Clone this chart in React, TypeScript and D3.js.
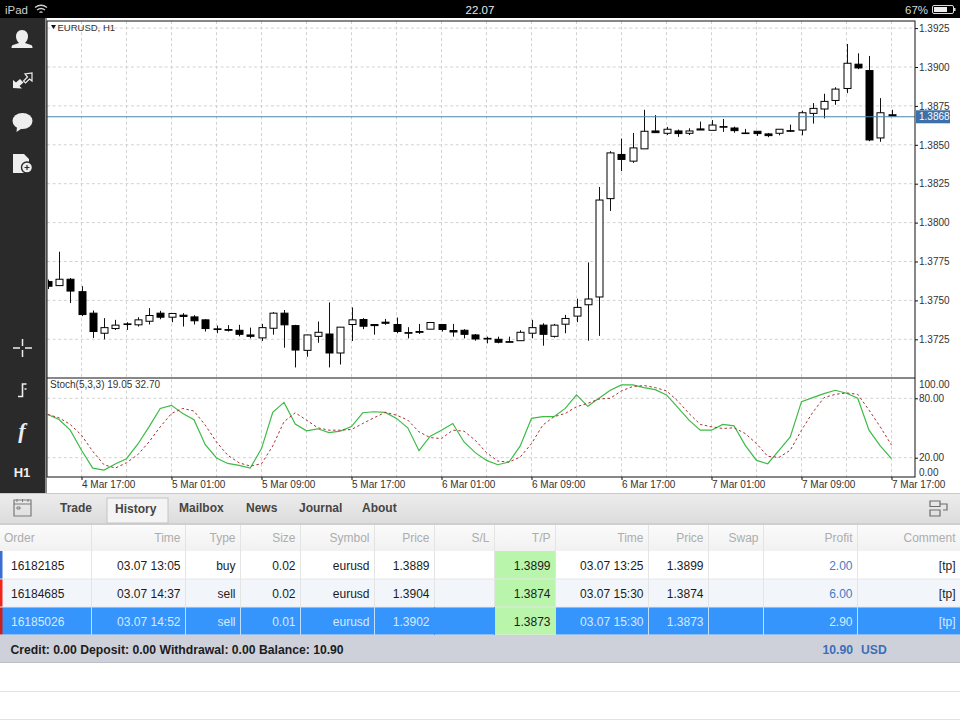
import { useRef, useEffect } from 'react';
import * as d3 from 'd3';

const opens = [1.37621,1.37595,1.37636,1.37556,1.37418,1.37289,1.37319,1.37349,1.37343,1.37366,1.37418,1.37392,1.37405,1.37394,1.37375,1.37317,1.37313,1.37308,1.37278,1.37259,1.37321,1.37418,1.37338,1.37179,1.37269,1.37284,1.37162,1.37345,
  1.37377,1.37345,1.37360,1.37345,1.37293,1.37300,1.37315,1.37345,1.37306,1.37308,1.37278,1.37256,1.37250,1.37235,1.37241,1.37289,1.37341,1.37269,1.37347,1.37399,1.37472,1.37522,
  1.38154,1.38438,1.38395,1.38474,1.38589,1.38574,1.38589,1.38574,1.38602,1.38593,1.38617,1.38608,1.38576,1.38587,1.38570,1.38574,1.38591,1.38595,1.38702,1.38730,1.38785,1.38862,1.39018,1.38977,1.38544,1.38693];
const highs = [1.37634,1.37813,1.37644,1.37591,1.37435,1.37386,1.37375,1.37360,1.37392,1.37450,1.37433,1.37418,1.37418,1.37405,1.37379,1.37338,1.37341,1.37343,1.37325,1.37349,1.37425,1.37438,1.37343,1.37280,1.37364,1.37487,1.37328,1.37455,
  1.37386,1.37345,1.37381,1.37390,1.37328,1.37349,1.37358,1.37345,1.37349,1.37315,1.37284,1.37267,1.37267,1.37267,1.37308,1.37375,1.37353,1.37349,1.37407,1.37511,1.37744,1.38229,
  1.38459,1.38540,1.38576,1.38725,1.38691,1.38615,1.38598,1.38606,1.38649,1.38659,1.38666,1.38617,1.38602,1.38587,1.38576,1.38600,1.38630,1.38719,1.38768,1.38828,1.38870,1.39148,1.39088,1.39071,1.38800,1.38725];
const lows = [1.37573,1.37595,1.37483,1.37399,1.37259,1.37250,1.37310,1.37310,1.37332,1.37345,1.37379,1.37360,1.37332,1.37345,1.37300,1.37289,1.37300,1.37269,1.37256,1.37239,1.37280,1.37196,1.37069,1.37138,1.37228,1.37069,1.37088,1.37239,
  1.37315,1.37280,1.37343,1.37289,1.37256,1.37284,1.37315,1.37300,1.37267,1.37256,1.37241,1.37224,1.37224,1.37231,1.37241,1.37256,1.37209,1.37261,1.37289,1.37360,1.37241,1.37272,
  1.38075,1.38331,1.38384,1.38474,1.38578,1.38563,1.38551,1.38563,1.38595,1.38593,1.38583,1.38578,1.38574,1.38557,1.38549,1.38561,1.38583,1.38561,1.38636,1.38670,1.38757,1.38832,1.38986,1.38523,1.38519,1.38685];
const closes = [1.37591,1.37636,1.37560,1.37409,1.37300,1.37325,1.37341,1.37345,1.37375,1.37403,1.37392,1.37416,1.37397,1.37369,1.37319,1.37313,1.37308,1.37282,1.37269,1.37325,1.37418,1.37343,1.37181,1.37278,1.37295,1.37162,1.37328,1.37375,
  1.37334,1.37338,1.37353,1.37300,1.37289,1.37295,1.37358,1.37313,1.37297,1.37282,1.37252,1.37252,1.37231,1.37231,1.37295,1.37325,1.37282,1.37341,1.37384,1.37455,1.37509,1.38145,
  1.38448,1.38406,1.38480,1.38587,1.38578,1.38600,1.38572,1.38589,1.38595,1.38627,1.38615,1.38591,1.38574,1.38572,1.38559,1.38600,1.38587,1.38706,1.38734,1.38779,1.38858,1.39024,1.38994,1.38531,1.38706,1.38685];

const stochK = [63.7,58.6,47.8,27.5,9.5,7.5,13.6,19,33.6,51.2,69.8,72.9,64.7,58.3,33.2,19.7,14.2,12.2,9.5,29.2,65.8,75.9,53.9,47.1,49.2,45.4,46.8,51.5,
  65.4,66.4,65.8,59.7,50.2,27.1,41.7,47.8,54.6,35.9,25.1,17.3,12.9,15.6,31.9,59.7,61.4,61.4,69.8,83.4,71.9,80,88.1,93.6,93.6,90.8,88.8,83.4,
  70.8,58,47.8,47.8,53.6,52.2,32.5,17.3,13.9,27.5,41,76.6,80.7,84.7,88.1,85.1,80,47.8,31.9,19.05];
const stochD = [63.7,60.3,53.6,42.7,26.4,12.9,9.5,14.9,23,35.9,51.2,64.7,69.8,67.1,52.9,35.9,22.4,14.9,11.5,13.9,31.9,56.3,65.4,58,50.2,47.8,47.8,48.5,
  54.6,60.3,65.8,63,58,46.1,40.3,39.3,47.8,46.8,37.6,25.1,16.6,15.6,20.7,34.2,52.9,61.4,64.7,71.5,74.9,79.3,80,87.5,91.9,92.9,90.8,87.5,
  77.3,64.7,53.6,51.2,49.5,50.2,44.4,34.2,21.4,20.3,27.5,47.8,65.8,80.7,84,85.4,84,68.1,51.2,32.7];

const priceTicks = [1.3925,1.39,1.3875,1.385,1.3825,1.38,1.3775,1.375,1.3725];
const stochTicks = [100,80,20,0];
const lastPrice = 1.3868;
const dateLabels = ['4 Mar 17:00','5 Mar 01:00','5 Mar 09:00','5 Mar 17:00','6 Mar 01:00','6 Mar 09:00','6 Mar 17:00','7 Mar 01:00','7 Mar 09:00','7 Mar 17:00'];

const tabs = ['Trade','History','Mailbox','News','Journal','About'];
const tabX = [60,115,179,246,299,362];
const headers = ['Order','Time','Type','Size','Symbol','Price','S/L','T/P','Time','Price','Swap','Profit','Comment'];
const colEdges = [0,91,185,240,300,374,434,494,555,648,708,763,857,960];
const rows = [
  ['16182185','03.07 13:05','buy','0.02','eurusd','1.3889','','1.3899','03.07 13:25','1.3899','','2.00','[tp]'],
  ['16184685','03.07 14:37','sell','0.02','eurusd','1.3904','','1.3874','03.07 15:30','1.3874','','6.00','[tp]'],
  ['16185026','03.07 14:52','sell','0.01','eurusd','1.3902','','1.3873','03.07 15:30','1.3873','','2.90','[tp]'],
];
const rowTop = [551,579,607];
const rowBg = ['#ffffff','#f2f6fb','#3595fd'];
const rowMark = ['#3b6fd4','#f0261c','#c8201c'];
const font = 'Liberation Sans, Arial, sans-serif';

export default function App () {
  const chartRef = useRef<SVGGElement | null>(null);

  useEffect(() => {
    const g = d3.select(chartRef.current);
    g.selectAll('*').remove();

    const left = 47, right = 915, top = 21, mid = 378, bottom = 477;
    const x = d3.scaleLinear().domain([3, 75]).range([81.5, 891.5]);
    const yPrice = d3.scaleLinear().domain([1.39, 1.3725]).range([67, 339.3]);
    const yStoch = d3.scaleLinear().domain([0, 100]).range([477.5, 378.5]);
    const gridX = d3.range(3, 76, 4);

    g.append('rect').attr('x', left).attr('y', top).attr('width', right - left).attr('height', bottom - top).attr('fill', '#fff');
    g.append('clipPath').attr('id', 'plot').append('rect').attr('x', left + 1).attr('y', top).attr('width', right - left - 1).attr('height', bottom - top);

    // grid
    const grid = g.append('g').attr('stroke', '#d2d2d2').attr('stroke-dasharray', '3,2.6').attr('fill', 'none');
    gridX.forEach(i => {
      grid.append('line').attr('x1', x(i)).attr('x2', x(i)).attr('y1', top).attr('y2', bottom);
    });
    priceTicks.forEach(p => {
      grid.append('line').attr('x1', left).attr('x2', right).attr('y1', yPrice(p)).attr('y2', yPrice(p));
    });
    [80, 20].forEach(v => {
      grid.append('line').attr('x1', left).attr('x2', right).attr('y1', yStoch(v)).attr('y2', yStoch(v));
    });

    // candles
    const candles = g.append('g').attr('clip-path', 'url(#plot)');
    closes.forEach((c, i) => {
      const o = opens[i];
      const cx = Math.round(x(i)) + 0.5;
      candles.append('line')
        .attr('x1', cx).attr('x2', cx)
        .attr('y1', yPrice(highs[i])).attr('y2', yPrice(lows[i]))
        .attr('stroke', '#111');
      const bodyTop = yPrice(Math.max(o, c));
      const bodyH = Math.abs(yPrice(c) - yPrice(o));
      candles.append('rect')
        .attr('x', cx - 3.5).attr('y', bodyTop)
        .attr('width', 7).attr('height', Math.max(bodyH, 0.6))
        .attr('fill', c > o ? '#fff' : '#000')
        .attr('stroke', '#000');
    });

    // last price line
    g.append('line')
      .attr('x1', left).attr('x2', right)
      .attr('y1', yPrice(lastPrice)).attr('y2', yPrice(lastPrice))
      .attr('stroke', '#4a87a8').attr('stroke-width', 1.1);

    // stochastic
    const line = d3.line<number>().x((_, i) => x(i)).y(v => yStoch(v));
    g.append('path').attr('d', line(stochK)).attr('fill', 'none').attr('stroke', '#3dbb45').attr('stroke-width', 1.2);
    g.append('path').attr('d', line(stochD)).attr('fill', 'none').attr('stroke', '#a83232').attr('stroke-width', 1).attr('stroke-dasharray', '2.5,2.5');

    // frame
    g.append('rect').attr('x', left).attr('y', top).attr('width', right - left).attr('height', bottom - top)
      .attr('fill', 'none').attr('stroke', '#111');
    g.append('line').attr('x1', left).attr('x2', right).attr('y1', mid).attr('y2', mid).attr('stroke', '#111');

    // axes
    const priceAxis = g.append('g').attr('transform', `translate(${right},0)`)
      .call(d3.axisRight(yPrice).tickValues(priceTicks).tickFormat(d3.format('.4f') as any).tickSize(3).tickPadding(1));
    const stochAxis = g.append('g').attr('transform', `translate(${right},0)`)
      .call(d3.axisRight(yStoch).tickValues(stochTicks).tickFormat(d3.format('.2f') as any).tickSize(3).tickPadding(1));
    stochAxis.selectAll<SVGGElement, number>('.tick').filter(d => d === 100 || d === 0).each(function (d) {
      d3.select(this).select('line').remove();
      d3.select(this).select('text').attr('y', d === 100 ? 6 : -5.5);
    });
    const dateAxis = g.append('g').attr('transform', `translate(0,${bottom})`)
      .call(d3.axisBottom(x).tickValues(dateLabels.map((_, i) => 3 + i * 8)).tickFormat((_, i) => dateLabels[i]).tickSize(3).tickPadding(1));
    dateAxis.selectAll('text').attr('text-anchor', 'start');
    [priceAxis, stochAxis, dateAxis].forEach(a => {
      a.select('.domain').remove();
      a.selectAll('text').attr('fill', '#333').style('font-size', '10px').style('font-family', font);
      a.selectAll('line').attr('stroke', '#111');
    });

    // last price badge
    const yLast = yPrice(lastPrice);
    g.append('rect').attr('x', 916).attr('y', yLast - 6.5).attr('width', 34).attr('height', 13).attr('fill', '#3d6fa8');
    g.append('text').attr('x', 919).attr('y', yLast).attr('dy', '0.35em').attr('fill', '#fff')
      .style('font-size', '10px').style('font-family', font).text(d3.format('.4f')(lastPrice));

    // titles
    g.append('path').attr('d', 'M51 25h5l-2.5 4z').attr('fill', '#111');
    g.append('text').attr('x', 57.5).attr('y', 31).attr('fill', '#333').style('font-size', '9.5px').style('font-family', font).text('EURUSD, H1');
    g.append('text').attr('x', 50).attr('y', 388).attr('fill', '#333').style('font-size', '10px').style('font-family', font).text('Stoch(5,3,3) 19.05 32.70');
  }, []);

  const align = (c: number) => c === 0
    ? { x: colEdges[0] + 11, anchor: 'start' }
    : { x: colEdges[c + 1] - 4.5, anchor: 'end' };

  return (
    <svg width={960} height={720} style={{ position: 'absolute', left: 0, top: 0, fontFamily: font }}>
      <defs>
        <linearGradient id="toolbar" x1="0" y1="0" x2="0" y2="1">
          <stop offset="0" stopColor="#ececec" /><stop offset="1" stopColor="#dcdcdc" />
        </linearGradient>
        <linearGradient id="thead" x1="0" y1="0" x2="0" y2="1">
          <stop offset="0" stopColor="#fbfbfb" /><stop offset="1" stopColor="#f1f1f1" />
        </linearGradient>
      </defs>
      <rect width={960} height={720} fill="#fff" />

      {/* status bar */}
      <rect width={960} height={18} fill="#000" />
      <text x={5} y={14} fontSize={11.5} fill="#d0d0d0">iPad</text>
      <path d="M35 7.5q6-4.5 12 0M37 10q4-3 8 0M39.5 12.5q1.5-1.2 3 0" fill="none" stroke="#d0d0d0" strokeWidth={1.4} />
      <text x={480} y={14} fontSize={11.5} fill="#e8e8e8" textAnchor="middle">22.07</text>
      <text x={905} y={14} fontSize={11.5} fill="#d8d8d8">67%</text>
      <rect x={932.5} y={5.5} width={21} height={8} rx={1.5} fill="none" stroke="#ddd" />
      <rect x={934} y={7} width={13} height={5} fill="#eee" />
      <rect x={954} y={8} width={1.5} height={3} fill="#ddd" />

      {/* side bar */}
      <rect x={0} y={18} width={45} height={475} fill="#2a2a2a" />
      <rect x={45} y={18} width={2} height={475} fill="#8a8a8a" />
      <g fill="#eee" stroke="none">
        <path d="M22 30c4 0 6 3 6 6.5 0 3-1.5 5-3 6.5l6 2c1 .4 1.5 1 1.5 3h-21c0-2 .5-2.6 1.5-3l6-2c-1.5-1.5-3-3.5-3-6.5 0-3.5 2-6.5 6-6.5z" />
        <path d="M13 88v-8l3 2.5 4-3.5 3.5 3.5-4 3.5 2.5 2.5z" />
        <path d="M32 73v8l-2.5-2-4 4-2-2 4-4-2.5-3z" fill="none" stroke="#eee" strokeWidth={1.2} />
        <ellipse cx={22.5} cy={121} rx={10} ry={8} />
        <path d="M17 127l-.5 5 6-4z" />
        <path d="M13 154h11l5 5v5h-3v9h-13z" />
        <circle cx={27} cy={167.5} r={5.5} fill="#eee" stroke="#2a2a2a" strokeWidth={1.4} />
        <path d="M24.5 167.5h5M27 165v5" stroke="#2a2a2a" strokeWidth={1.2} />
      </g>
      <path d="M13 348h7M25 348h7M22.5 339v7M22.5 350v7" stroke="#eee" strokeWidth={1.5} />
      <path d="M18 396.5h4.5v-12.5h4M24.5 389h2" fill="none" stroke="#eee" strokeWidth={1.6} />
      <text x={22} y={438} fontSize={22} fontStyle="italic" fontFamily="Liberation Serif, serif" fontWeight="bold" fill="#eee" textAnchor="middle">f</text>
      <text x={22} y={477} fontSize={13} fontWeight="bold" fill="#eee" textAnchor="middle">H1</text>

      <g ref={chartRef} />

      {/* tab bar */}
      <rect x={0} y={493} width={960} height={1} fill="#c9c9c9" />
      <rect x={0} y={494} width={960} height={30} fill="url(#toolbar)" />
      <rect x={0} y={523} width={960} height={2} fill="#cfcfcf" />
      <rect x={107} y={498} width={61} height={25} fill="#f4f4f4" stroke="#c4c4c4" />
      <path d="M14 500h17v16h-17zM14 504h17" fill="none" stroke="#7a7a7a" strokeWidth={1.2} />
      <path d="M17 499v3M22.5 499v3M28 499v3M17 507h3v2h-3z" stroke="#7a7a7a" fill="none" />
      <path d="M930 501h10v5.5h-10zM930 510h10v6h-10zM940 504h7v6h-4" fill="none" stroke="#6d6d6d" strokeWidth={1.2} />
      {tabs.map((t, i) => (
        <text key={t} x={tabX[i]} y={i === 1 ? 513 : 512} fontSize={12} fontWeight="bold" fill="#454545">{t}</text>
      ))}

      {/* table head */}
      <rect x={0} y={525} width={960} height={26} fill="url(#thead)" />
      {headers.map((h, c) => {
        const a = align(c);
        return <text key={c} x={c === 0 ? 4 : a.x} y={541.5} fontSize={12} fill="#adadad" textAnchor={a.anchor as any}>{h}</text>;
      })}

      {/* table rows */}
      {rows.map((row, r) => (
        <g key={r}>
          <rect x={0} y={rowTop[r]} width={960} height={28} fill={rowBg[r]} />
          <rect x={colEdges[7]} y={rowTop[r]} width={colEdges[8] - colEdges[7]} height={28} fill="#b9f6ab" />
          <rect x={0} y={rowTop[r]} width={2.5} height={28} fill={rowMark[r]} />
          {row.map((v, c) => {
            const a = align(c);
            const selected = r === 2 && c !== 7;
            const fill = selected ? '#d6eaff' : c === 11 ? '#3f7cc6' : '#1c1c1c';
            return <text key={c} x={a.x} y={rowTop[r] + 18.5} fontSize={12} fill={fill} textAnchor={a.anchor as any}>{v}</text>;
          })}
        </g>
      ))}
      {rowTop.map(y => <rect key={y} x={0} y={y + 27.5} width={960} height={1} fill="#e3e6ea" />)}
      {colEdges.slice(1, -1).map((e, i) => (
        <g key={i}>
          <rect x={e} y={525} width={1} height={82} fill="#e4e4e4" />
          <rect x={e} y={607} width={1} height={28} fill={i === 6 || i === 5 ? '#3595fd' : '#bfe0ff'} />
        </g>
      ))}

      {/* footer */}
      <rect x={0} y={635} width={960} height={28} fill="#cfd1da" />
      <rect x={0} y={662} width={960} height={1} fill="#bdbfc6" />
      <text x={10.5} y={653.5} fontSize={12.2} fontWeight="bold" fill="#1c1c1c">Credit: 0.00 Deposit: 0.00 Withdrawal: 0.00 Balance: 10.90</text>
      <text x={853} y={653.5} fontSize={12.2} fontWeight="bold" fill="#3a6fb8" textAnchor="end">10.90</text>
      <text x={861} y={653.5} fontSize={12.2} fontWeight="bold" fill="#3a6fb8">USD</text>
      <rect x={0} y={691} width={960} height={1} fill="#e2e2e2" />
      <rect x={0} y={719} width={960} height={1} fill="#e2e2e2" />
    </svg>
  );
}
